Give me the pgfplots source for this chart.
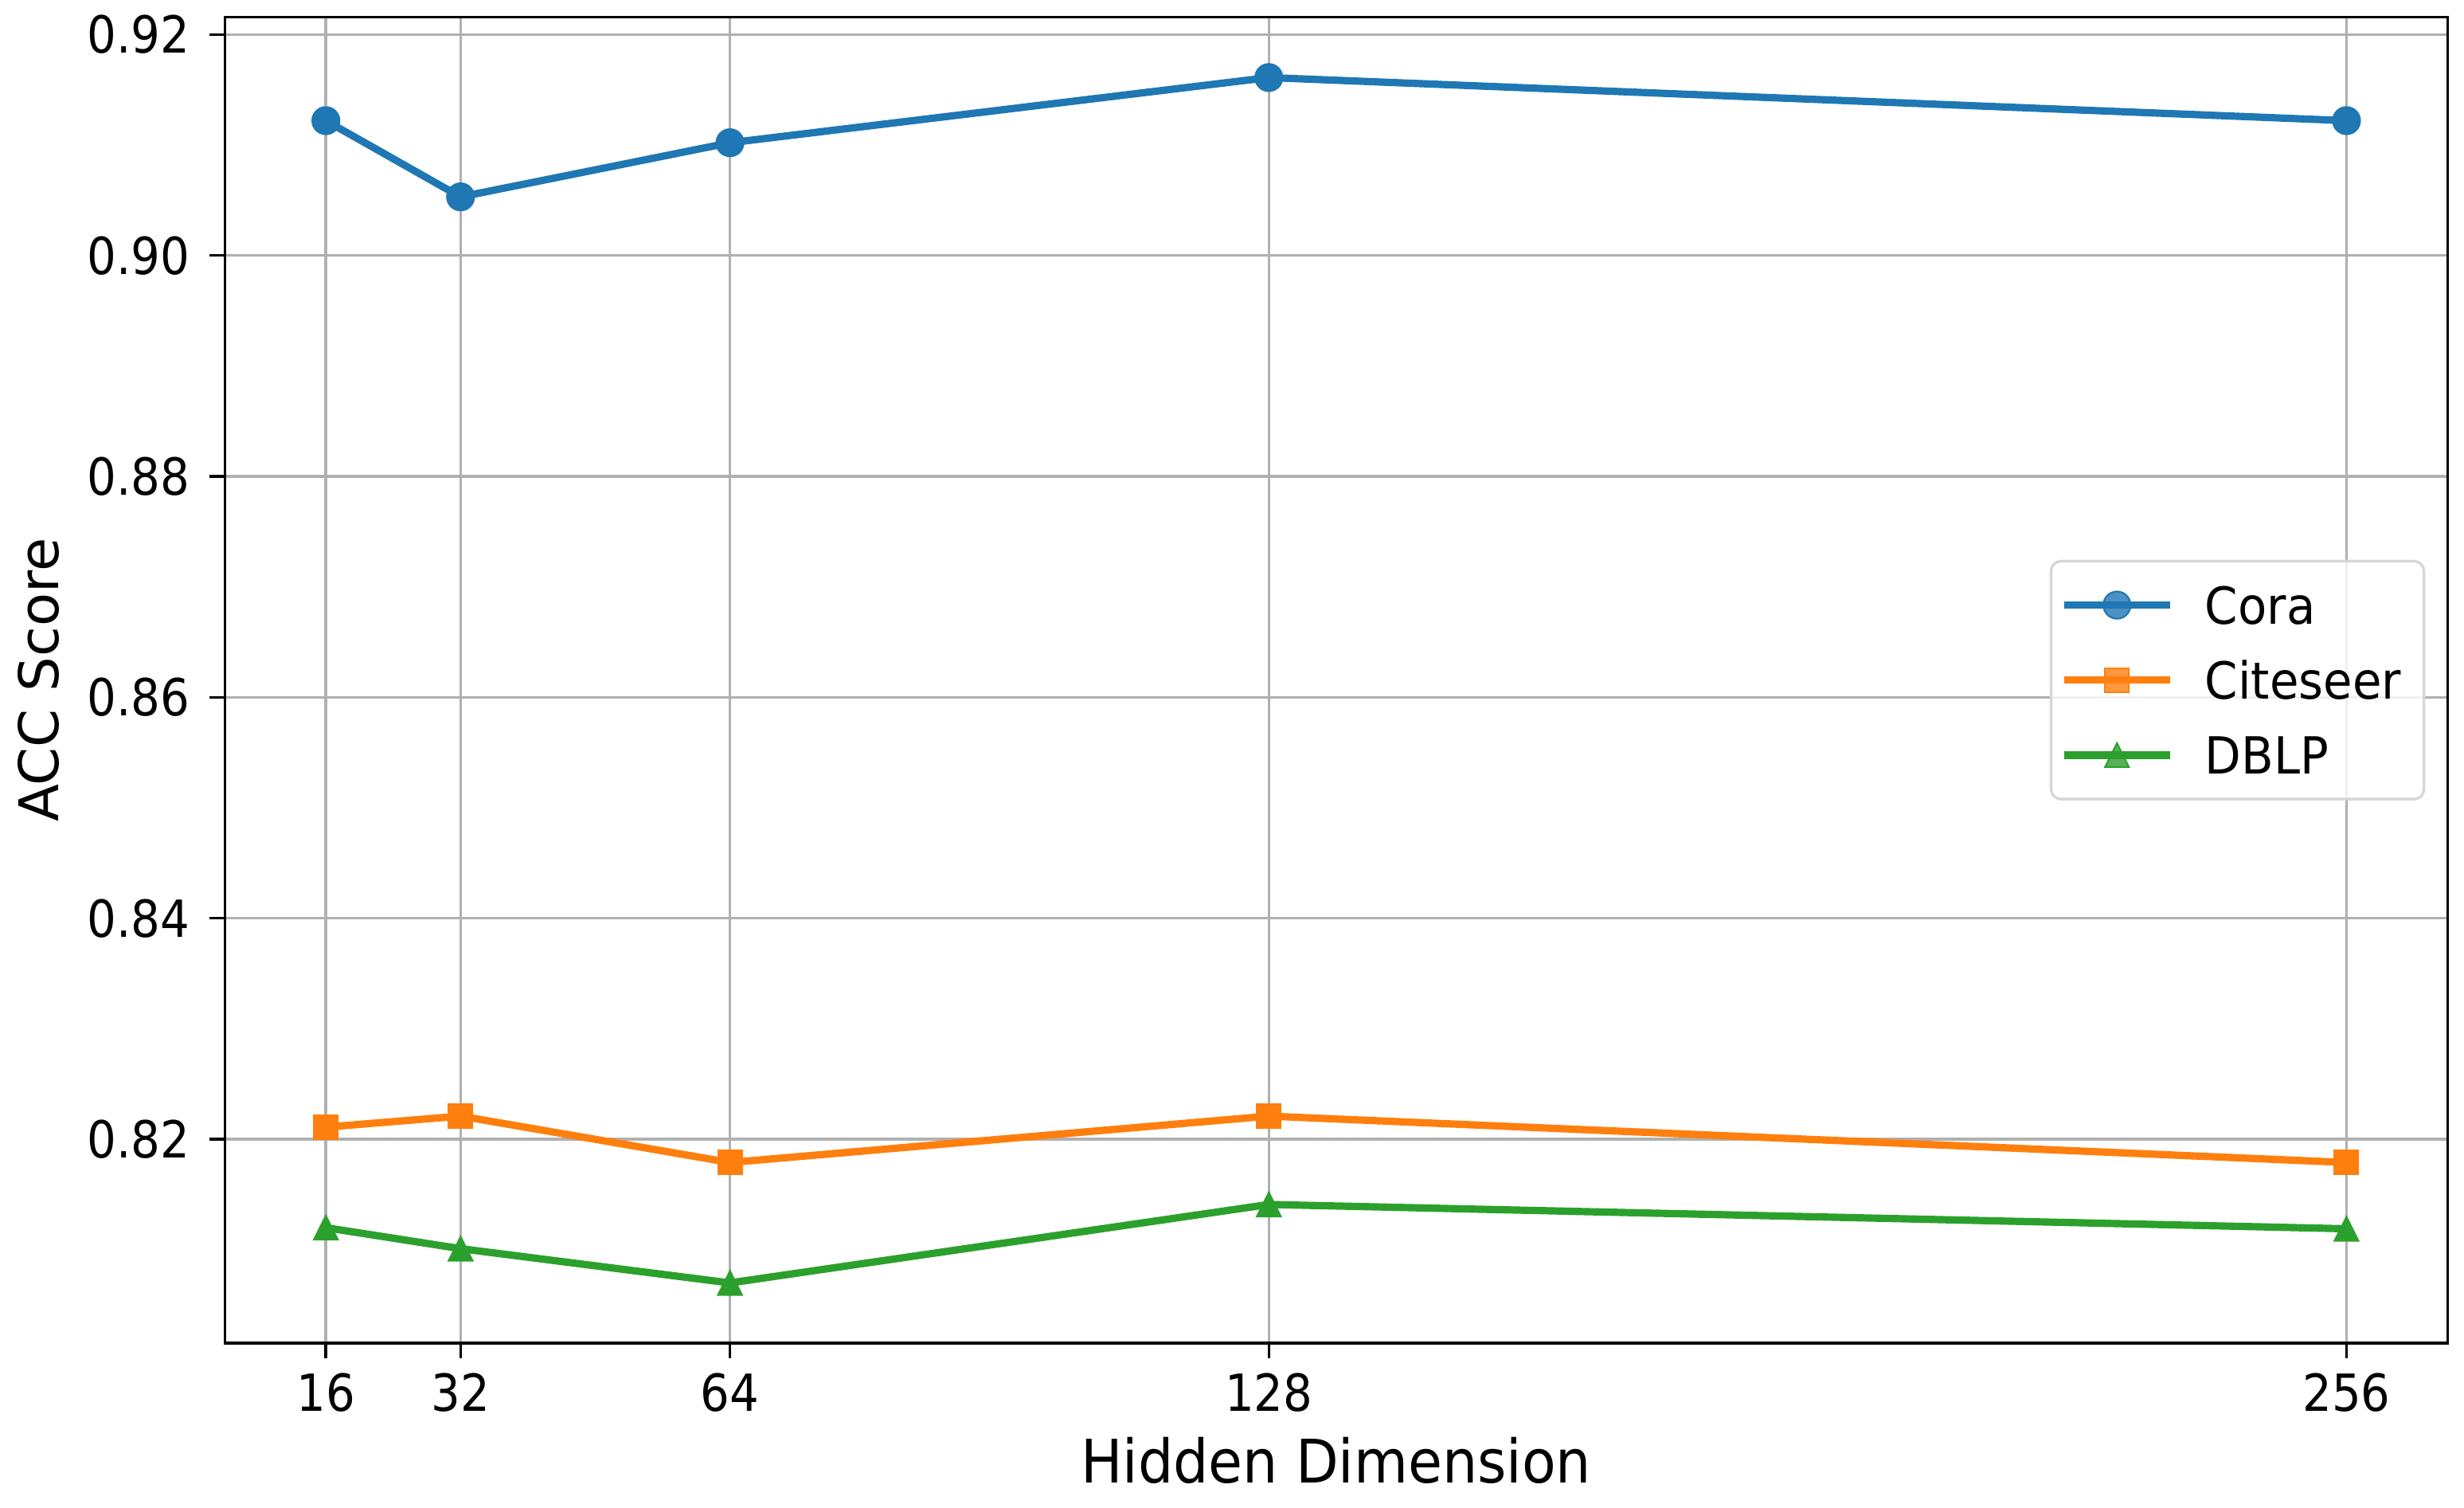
\documentclass[border=0pt]{standalone}
\usepackage{pgfplots}
\pgfplotsset{compat=1.18}
\usepackage{fontspec}
\setmainfont{DejaVu Sans}
\newfontfamily\narrowfont{DejaVu Sans}[FakeStretch=0.9]
\newfontfamily\legfont{DejaVu Sans}[FakeStretch=0.925]
\definecolor{c0}{HTML}{1F77B4}
\definecolor{c1}{HTML}{FF7F0E}
\definecolor{c2}{HTML}{2CA02C}
\definecolor{gridc}{HTML}{B0B0B0}
\definecolor{legedge}{HTML}{D6D6D6}
\pgfdeclareplotmark{mpltri}{%
  \pgfpathmoveto{\pgfqpoint{0pt}{\pgfplotmarksize}}%
  \pgfpathlineto{\pgfqpoint{-\pgfplotmarksize}{-\pgfplotmarksize}}%
  \pgfpathlineto{\pgfqpoint{\pgfplotmarksize}{-\pgfplotmarksize}}%
  \pgfpathclose
  \pgfusepathqfillstroke}
\begin{document}
\begin{tikzpicture}
\begin{axis}[
  name=ax,
  scale only axis,
  width=669.8pt, height=399.4pt,
  xmin=4, xmax=268, ymin=0.80156, ymax=0.92156,
  xtick={16,32,64,128,256},
  ytick={0.82,0.84,0.86,0.88,0.90,0.92},
  /pgf/number format/assume math mode=true,
  grid=major,
  major grid style={gridc, line width=0.8pt},
  axis line style={line width=0.8pt, black},
  tick align=outside,
  major tick length=4.56pt,
  tick style={black, line width=0.8pt},
  xtick pos=bottom, ytick pos=left,
  tick label style={font=\narrowfont\fontsize{15.4}{18}\selectfont},
  every x tick label/.append style={anchor=north, inner sep=0pt, yshift=-4.34pt},
  every y tick label/.append style={anchor=east, inner sep=0pt, xshift=-5.84pt,
    /pgf/number format/fixed, /pgf/number format/fixed zerofill, /pgf/number format/precision=2},
  xlabel={Hidden Dimension},
  ylabel={ACC Score},
  xlabel style={font=\legfont\fontsize{18.1}{21}\selectfont,
    at={(axis description cs:0.5,0)}, anchor=north, inner sep=0pt, yshift=-28.1pt},
  ylabel style={font=\fontsize{16.5}{19}\selectfont,
    at={(axis description cs:-0.0742,0.5)}, anchor=south, inner sep=0pt},
  legend cell align=left,
  legend image code/.code={\draw[mark repeat=2, mark phase=2, #1] plot coordinates {(0pt,0pt) (15.95pt,0pt) (31.9pt,0pt)};},
  legend style={
    at={(axis description cs:1,0.5)}, anchor=east, xshift=-6.7pt,
    draw=legedge, line width=0.8pt, fill=white, fill opacity=0.8, text opacity=1,
    rounded corners=3pt, inner xsep=2.8pt, inner ysep=7.6pt,
    font=\legfont\fontsize{15.4}{18}\selectfont,
    nodes={inner ysep=0pt, inner xsep=4.1pt, text height=11.3pt, text depth=0pt},
    row sep=11.3pt,
    /tikz/every odd column/.append style={column sep=5.4pt},
  },
  every axis plot/.append style={line width=2.2pt},
]
\addplot[c0, mark=*, mark size=4.1pt, mark options={solid, line width=0.5pt}]
  coordinates {(16,0.9122) (32,0.9053) (64,0.9102) (128,0.9161) (256,0.9122)};
\addlegendentry{Cora}
\addplot[c1, mark=square*, mark size=3.6pt, mark options={solid, line width=0.5pt}]
  coordinates {(16,0.8211) (32,0.8221) (64,0.8179) (128,0.8221) (256,0.8179)};
\addlegendentry{Citeseer}
\addplot[c2, mark=mpltri, mark size=3.6pt, mark options={solid, line width=0.5pt}]
  coordinates {(16,0.8120) (32,0.8101) (64,0.8070) (128,0.8141) (256,0.8119)};
\addlegendentry{DBLP}
\end{axis}
\pgfresetboundingbox
\path ([xshift=-67.75pt,yshift=-49.7pt]ax.south west) rectangle ([xshift=4.97pt,yshift=5.2pt]ax.north east);
\end{tikzpicture}
\end{document}
